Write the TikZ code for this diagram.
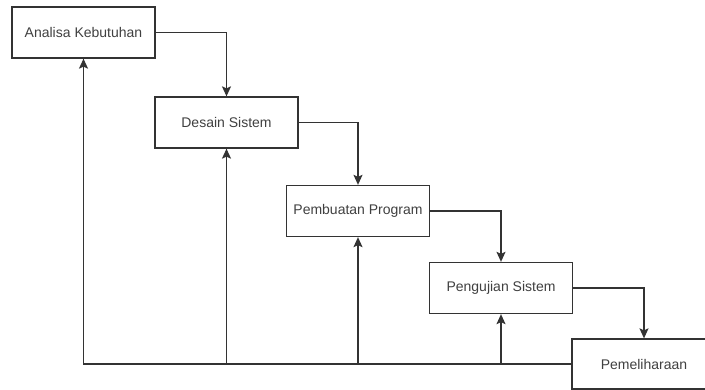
\documentclass[tikz,border=0pt]{standalone}
\usepackage{fontspec}
\setmainfont{Liberation Sans}
\usetikzlibrary{arrows.meta}
\definecolor{linec}{HTML}{333333}
\definecolor{textc}{HTML}{404040}
\tikzset{
  stagebox/.style={draw=linec, line width=1.3pt, fill=white, minimum width=143pt, minimum height=51pt, inner sep=0pt, text=textc, font=\fontsize{14}{16}\selectfont},
  conn/.style={draw=linec, line width=1.3pt, -{Stealth[length=10pt,width=9pt,inset=2pt]}},
}
\begin{document}
\begin{tikzpicture}[x=1pt,y=-1pt]
\useasboundingbox (0,0) rectangle (705,389);
\clip (0,0) rectangle (705,389);
\fill[white] (0,0) rectangle (705,389);
\node[stagebox] (b1) at (83.5,32.5) {Analisa Kebutuhan};
\node[stagebox] (b2) at (226.5,122.5) {Desain Sistem};
\node[stagebox] (b3) at (358,211) {Pembuatan Program};
\node[stagebox] (b4) at (501,288) {Pengujian Sistem};
\node[stagebox, minimum width=144pt, minimum height=50pt] (b5) at (644,364) {Pemeliharaan};
\draw[conn] (b1.east) -| (b2.north);
\draw[conn] (b2.east) -| (b3.north);
\draw[conn] (b3.east) -| (b4.north);
\draw[conn] (b4.east) -| (b5.north);
\draw[conn] (b5.west) -| (b1.south);
\coordinate (j2) at (b2.south |- b5.west);
\coordinate (j3) at (b3.south |- b5.west);
\coordinate (j4) at (b4.south |- b5.west);
\draw[conn] (j2) -- (b2.south);
\draw[conn] (j3) -- (b3.south);
\draw[conn] (j4) -- (b4.south);
\end{tikzpicture}
\end{document}
